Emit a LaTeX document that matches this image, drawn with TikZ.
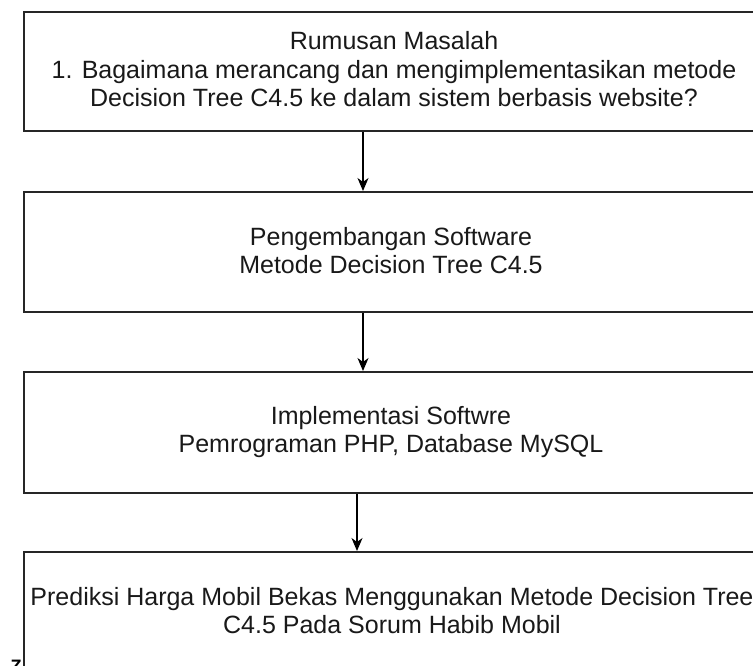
\documentclass[tikz,border=0pt]{standalone}
\usepackage{fontspec}
\setmainfont{Liberation Sans}
\usetikzlibrary{arrows.meta}
\begin{document}
\begin{tikzpicture}[x=1pt,y=-1pt,
  box/.style={draw=black!85, line width=1.6pt, rectangle, anchor=north west, inner sep=0pt},
  txt/.style={anchor=base, inner sep=0pt, font=\fontsize{25}{28}\selectfont, text=black!90},
  arr/.style={line width=1.1pt, -{Stealth[length=13pt,width=11pt,inset=4pt]}}]
  \useasboundingbox (0,0) rectangle (753,666);
  \clip (0,0) rectangle (753,666);

  % process boxes (they run past the right edge)
  \node[box, minimum width=740pt, minimum height=119pt] (b1) at (23,11) {};
  \node[box, minimum width=740pt, minimum height=120pt] (b2) at (23,191) {};
  \node[box, minimum width=740pt, minimum height=121pt] (b3) at (23,371) {};
  \node[box, minimum width=740pt, minimum height=160pt] (b4) at (23,551) {};

  % box texts
  \node[txt] (t11) at (394,50) {Rumusan Masalah};
  \node[txt] (t12) at (394,79) {1. Bagaimana merancang dan mengimplementasikan metode};
  \node[txt] (t13) at (394,107) {Decision Tree C4.5 ke dalam sistem berbasis website?};

  \node[txt] (t21) at (391,245) {Pengembangan Software};
  \node[txt] (t22) at (391,273) {Metode Decision Tree C4.5};

  \node[txt] (t31) at (391,424) {Implementasi Softwre};
  \node[txt] (t32) at (391,452) {Pemrograman PHP, Database MySQL};

  \node[txt] (t41) at (392,605) {Prediksi Harga Mobil Bekas Menggunakan Metode Decision Tree};
  \node[txt] (t42) at (392,633) {C4.5 Pada Sorum Habib Mobil};

  % stray label at the lower left
  \node[anchor=base, inner sep=0pt, font=\fontsize{18}{22}\selectfont\bfseries\rmfamily] (z) at (16,672) {Z};

  % connectors
  \coordinate (xa) at (363,0);
  \coordinate (xb) at (357,0);
  \draw[arr] (b1.south -| xa) -- (b2.north -| xa);
  \draw[arr] (b2.south -| xa) -- (b3.north -| xa);
  \draw[arr] (b3.south -| xb) -- (b4.north -| xb);
\end{tikzpicture}
\end{document}
